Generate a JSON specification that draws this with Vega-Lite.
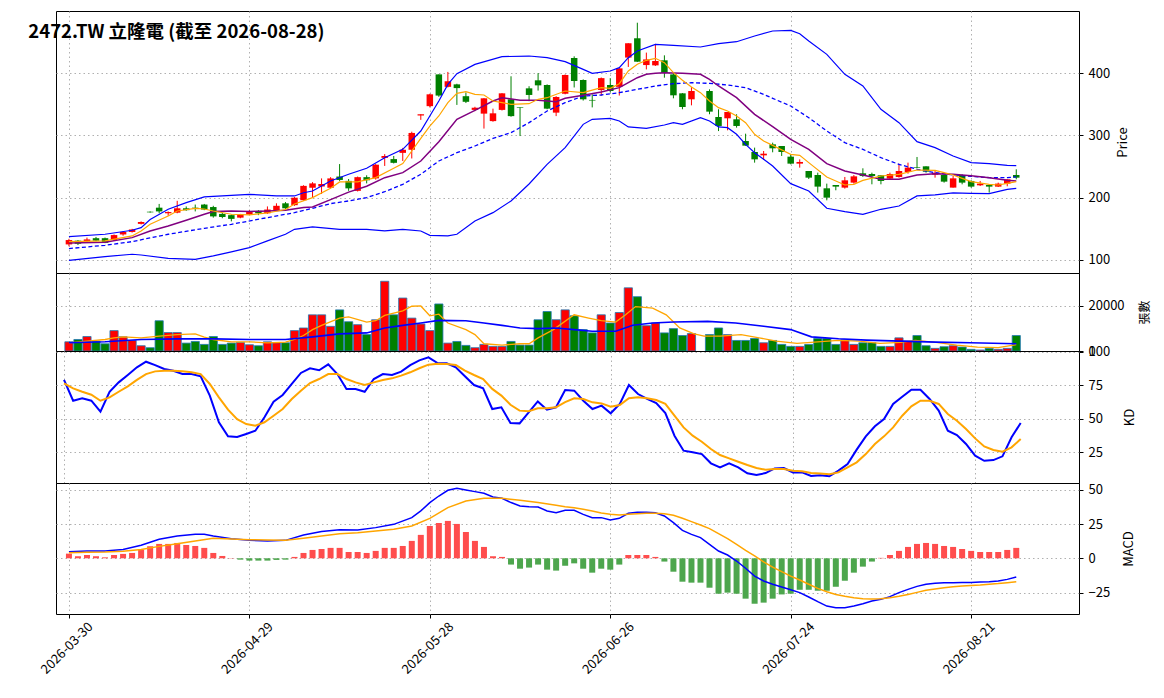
{
"$schema":"https://vega.github.io/schema/vega-lite/v6.json",
"autosize":{"type":"pad"},
"padding":{"left":27,"top":10,"right":5,"bottom":5},
"background":"white",
"bounds":"flush",
"spacing":0,
"config":{
"font":"Noto Sans CJK TC",
"view":{"stroke":"black","strokeWidth":1},
"axis":{"labelFont":"Noto Sans CJK TC","labelFontSize":13,"labelColor":"black","titleFont":"Noto Sans CJK TC","titleFontSize":13,"titleFontWeight":"normal","titleColor":"black","gridColor":"#b0b0b0","gridDash":[1.5,3],"gridWidth":1,"tickColor":"black","tickSize":4,"domain":false,"labelPadding":5}
},
"datasets":{
"d":[
{"i":0,"o":125,"h":134,"l":122,"c":132,"v":4085,"k":79,"dd":76.5,"osc":3.4},
{"i":1,"o":131,"h":132,"l":124,"c":126,"v":5107,"k":63.5,"dd":72.7,"osc":1.5},
{"i":2,"o":130,"h":136,"l":129,"c":133,"v":6420,"k":65.3,"dd":70.2,"osc":2.4},
{"i":3,"o":135,"h":137,"l":130,"c":131,"v":4377,"k":63.5,"dd":68,"osc":1.5},
{"i":4,"o":135,"h":136,"l":127,"c":127.5,"v":3210,"k":55.3,"dd":63.5,"osc":0.7},
{"i":5,"o":132,"h":141,"l":131,"c":140,"v":9046,"k":70.2,"dd":66,"osc":2.4},
{"i":6,"o":141,"h":146,"l":139,"c":145,"v":6274,"k":77.2,"dd":70.2,"osc":3.2},
{"i":7,"o":145,"h":150,"l":144,"c":149,"v":4669,"k":82.7,"dd":74.2,"osc":3.9},
{"i":8,"o":158,"h":162,"l":157,"c":161,"v":2334,"k":88.4,"dd":79,"osc":6.3},
{"i":9,"o":177.5,"h":178,"l":176,"c":176.5,"v":1459,"k":92.6,"dd":83.4,"osc":8.8},
{"i":10,"o":184,"h":190,"l":175,"c":178,"v":13423,"k":90.1,"dd":85.4,"osc":10.5},
{"i":11,"o":175,"h":178,"l":171,"c":177,"v":8170,"k":87.2,"dd":85.9,"osc":10.5},
{"i":12,"o":176,"h":195,"l":175,"c":183,"v":8170,"k":85.9,"dd":85.9,"osc":11.2},
{"i":13,"o":183,"h":186,"l":179,"c":180,"v":3502,"k":83.4,"dd":85.4,"osc":9.7},
{"i":14,"o":184,"h":189,"l":178,"c":183,"v":4231,"k":83.4,"dd":84.7,"osc":9},
{"i":15,"o":189,"h":190,"l":180,"c":181,"v":2918,"k":81.7,"dd":83.4,"osc":7.6},
{"i":16,"o":185,"h":187,"l":168,"c":170,"v":6420,"k":67.3,"dd":76,"osc":3.9},
{"i":17,"o":174,"h":176,"l":167,"c":169,"v":2918,"k":47.4,"dd":66,"osc":1.7},
{"i":18,"o":172,"h":173,"l":162,"c":166,"v":3502,"k":36.9,"dd":56.8,"osc":0.2},
{"i":19,"o":168,"h":174,"l":167,"c":173,"v":3793,"k":36.4,"dd":49.8,"osc":-1},
{"i":20,"o":173,"h":180,"l":172,"c":177,"v":2772,"k":38.7,"dd":46.1,"osc":-1.7},
{"i":21,"o":179,"h":180,"l":172,"c":175,"v":2334,"k":41.1,"dd":44.9,"osc":-1.7},
{"i":22,"o":175,"h":186,"l":174,"c":181,"v":4085,"k":51.1,"dd":47.4,"osc":-1.7},
{"i":23,"o":180,"h":191,"l":179,"c":187,"v":3647,"k":62.8,"dd":52.3,"osc":-1.2},
{"i":24,"o":191,"h":193,"l":182,"c":183,"v":3647,"k":67.8,"dd":57.3,"osc":-1},
{"i":25,"o":188,"h":201,"l":187,"c":200,"v":9046,"k":76,"dd":64.8,"osc":1},
{"i":26,"o":196,"h":220,"l":195,"c":219,"v":10213,"k":84.2,"dd":71,"osc":3.9},
{"i":27,"o":216,"h":225,"l":200,"c":223,"v":16049,"k":87.7,"dd":76.7,"osc":6.1},
{"i":28,"o":218,"h":231,"l":206,"c":222,"v":16049,"k":86.2,"dd":79.7,"osc":6.8},
{"i":29,"o":216,"h":233,"l":215,"c":231,"v":10943,"k":90.6,"dd":83.4,"osc":7.6},
{"i":30,"o":234,"h":254,"l":227,"c":228.5,"v":18238,"k":83.4,"dd":83.4,"osc":7.6},
{"i":31,"o":227,"h":230,"l":211,"c":215,"v":12985,"k":72.3,"dd":79.7,"osc":4.6},
{"i":32,"o":211,"h":234,"l":210,"c":233,"v":11672,"k":72.3,"dd":77.2,"osc":4.6},
{"i":33,"o":233,"h":236,"l":223,"c":228,"v":7295,"k":70.2,"dd":75.2,"osc":3.9},
{"i":34,"o":231,"h":254,"l":229,"c":253,"v":13861,"k":79.7,"dd":77.2,"osc":5.4},
{"i":35,"o":264,"h":270,"l":251,"c":267,"v":30931,"k":83.4,"dd":79,"osc":7.6},
{"i":36,"o":262,"h":267,"l":255,"c":256,"v":16049,"k":82.7,"dd":80.2,"osc":7.6},
{"i":37,"o":272,"h":280,"l":259,"c":277,"v":23490,"k":85.2,"dd":82.2,"osc":9},
{"i":38,"o":277,"h":306,"l":263,"c":304,"v":14590,"k":90.1,"dd":84.7,"osc":12.7},
{"i":39,"o":332,"h":334,"l":325,"c":334,"v":11964,"k":93.6,"dd":87.7,"osc":17.1},
{"i":40,"o":347,"h":367,"l":345,"c":366,"v":9046,"k":95.9,"dd":90.4,"osc":23.6},
{"i":41,"o":398,"h":398,"l":362,"c":364,"v":20864,"k":91.6,"dd":91.1,"osc":25.8},
{"i":42,"o":378,"h":402,"l":377,"c":387,"v":3502,"k":91.4,"dd":90.9,"osc":27.3},
{"i":43,"o":382,"h":383,"l":349,"c":376,"v":4231,"k":88.4,"dd":90.1,"osc":25.1},
{"i":44,"o":363,"h":369,"l":352,"c":354,"v":2480,"k":81.7,"dd":85.9,"osc":19.2},
{"i":45,"o":341,"h":346,"l":339,"c":344.5,"v":1459,"k":75.2,"dd":82.7,"osc":12.7},
{"i":46,"o":335,"h":360,"l":311,"c":359.6,"v":2918,"k":72.7,"dd":79.7,"osc":8.3},
{"i":47,"o":323,"h":343,"l":322,"c":335.5,"v":2043,"k":57.3,"dd":72.3,"osc":1.5},
{"i":48,"o":341,"h":368,"l":340,"c":367.6,"v":2043,"k":58.6,"dd":67.3,"osc":1},
{"i":49,"o":358,"h":395,"l":330,"c":331,"v":4231,"k":46.9,"dd":60.5,"osc":-4.6},
{"i":50,"o":345,"h":345,"l":299,"c":344,"v":2626,"k":46.6,"dd":56.1,"osc":-7.6},
{"i":51,"o":375.6,"h":379,"l":355,"c":365,"v":2626,"k":54.8,"dd":55.6,"osc":-6.8},
{"i":52,"o":388.5,"h":400,"l":372,"c":380.4,"v":13861,"k":63,"dd":57.8,"osc":-4.6},
{"i":53,"o":381,"h":382,"l":342,"c":343,"v":17520,"k":56.8,"dd":57.8,"osc":-8.3},
{"i":54,"o":336.6,"h":363,"l":331,"c":361.7,"v":13870,"k":58.6,"dd":58.6,"osc":-9},
{"i":55,"o":367,"h":398,"l":366,"c":397,"v":18250,"k":71.5,"dd":62.5,"osc":-5.4},
{"i":56,"o":424.3,"h":427,"l":377,"c":387.4,"v":15622,"k":71,"dd":65.3,"osc":-3.7},
{"i":57,"o":389,"h":390,"l":356,"c":358,"v":9490,"k":63.5,"dd":64.8,"osc":-7.6},
{"i":58,"o":357,"h":366,"l":345,"c":356,"v":8030,"k":57.3,"dd":62.3,"osc":-10.5},
{"i":59,"o":373,"h":393,"l":364,"c":392,"v":16060,"k":59.8,"dd":61.5,"osc":-7.6},
{"i":60,"o":381,"h":392,"l":369,"c":371.3,"v":12410,"k":54.1,"dd":59,"osc":-8.3},
{"i":61,"o":378,"h":408,"l":364,"c":407.7,"v":17082,"k":61.1,"dd":60.3,"osc":-4.6},
{"i":62,"o":425,"h":448,"l":410,"c":448,"v":28032,"k":75.2,"dd":65.3,"osc":2.4},
{"i":63,"o":456,"h":481,"l":418,"c":418.4,"v":24090,"k":68.5,"dd":66,"osc":2.4},
{"i":64,"o":413,"h":433,"l":406,"c":422,"v":11242,"k":64.8,"dd":65.3,"osc":2.4},
{"i":65,"o":412.5,"h":447,"l":411.5,"c":419.5,"v":12410,"k":61.8,"dd":64,"osc":1},
{"i":66,"o":420.6,"h":428.6,"l":392.7,"c":400.2,"v":8030,"k":54.3,"dd":61.1,"osc":-2.4},
{"i":67,"o":398,"h":400.8,"l":359.6,"c":364.4,"v":9928,"k":37.4,"dd":52.3,"osc":-9.8},
{"i":68,"o":367.6,"h":368,"l":342,"c":345.6,"v":6862,"k":26.2,"dd":43.6,"osc":-17.1},
{"i":69,"o":358,"h":377.8,"l":348.3,"c":371.3,"v":7738,"k":25,"dd":37.4,"osc":-17.8},
{"i":70,"o":null,"h":null,"l":null,"c":null,"v":null,"k":23.7,"dd":32.9,"osc":-17.8},
{"i":71,"o":371.3,"h":374,"l":334,"c":338.2,"v":7300,"k":16.8,"dd":27.5,"osc":-21.5},
{"i":72,"o":329.6,"h":342,"l":307,"c":315.2,"v":10220,"k":13.8,"dd":23,"osc":-25.9},
{"i":73,"o":327.5,"h":337.6,"l":308.2,"c":337.6,"v":7300,"k":16.8,"dd":20.5,"osc":-25.1},
{"i":74,"o":325.9,"h":334,"l":312.5,"c":315.2,"v":4672,"k":13.8,"dd":18,"osc":-25.9},
{"i":75,"o":291,"h":302.8,"l":283.6,"c":283.6,"v":4672,"k":9.3,"dd":15.5,"osc":-29.5},
{"i":76,"o":273.4,"h":280.4,"l":256.3,"c":261.6,"v":5548,"k":8.1,"dd":13.3,"osc":-33.2},
{"i":77,"o":268,"h":275,"l":260.6,"c":270.7,"v":3650,"k":9.5,"dd":12,"osc":-32.4},
{"i":78,"o":285.7,"h":288.4,"l":272.9,"c":279.3,"v":4672,"k":13,"dd":12.5,"osc":-29.5},
{"i":79,"o":283,"h":283,"l":267,"c":273.4,"v":2920,"k":13.3,"dd":12.5,"osc":-26.4},
{"i":80,"o":265.9,"h":269.7,"l":253.6,"c":254.7,"v":2044,"k":10,"dd":11.3,"osc":-25.9},
{"i":81,"o":254.7,"h":261.6,"l":248.3,"c":257.4,"v":2044,"k":10,"dd":10.8,"osc":-23},
{"i":82,"o":242.9,"h":242.9,"l":230,"c":232.2,"v":2920,"k":7.3,"dd":9.5,"osc":-23},
{"i":83,"o":236.5,"h":240.2,"l":208.2,"c":217.8,"v":5548,"k":7.8,"dd":9.1,"osc":-23.7},
{"i":84,"o":215.1,"h":222.6,"l":195.8,"c":200.1,"v":5548,"k":7.1,"dd":8.6,"osc":-23.7},
{"i":85,"o":220.4,"h":220.4,"l":211.9,"c":217.8,"v":2920,"k":11.3,"dd":10,"osc":-20.8},
{"i":86,"o":216.2,"h":233.3,"l":214.6,"c":227.9,"v":4964,"k":16.3,"dd":13.8,"osc":-16.4},
{"i":87,"o":224.2,"h":236.5,"l":222.6,"c":234.3,"v":2920,"k":27,"dd":17.5,"osc":-10.5},
{"i":88,"o":239.2,"h":247.2,"l":233.3,"c":234.9,"v":3650,"k":36.9,"dd":23.7,"osc":-6.1},
{"i":89,"o":238.1,"h":240.2,"l":221.5,"c":234.9,"v":3650,"k":44.4,"dd":31.2,"osc":-2.4},
{"i":90,"o":236,"h":236,"l":221.5,"c":226.9,"v":2044,"k":49.8,"dd":36.9,"osc":0.3},
{"i":91,"o":230.6,"h":240.2,"l":229.5,"c":238.1,"v":2044,"k":61.1,"dd":43.6,"osc":2.4},
{"i":92,"o":233.3,"h":254.7,"l":232.2,"c":242.9,"v":5840,"k":66.5,"dd":52.3,"osc":5.4},
{"i":93,"o":241.3,"h":256.3,"l":238.6,"c":248.3,"v":4380,"k":71.7,"dd":59.3,"osc":8.3},
{"i":94,"o":249.3,"h":265.4,"l":247.2,"c":248.3,"v":6862,"k":71.7,"dd":63.5,"osc":10.5},
{"i":95,"o":250.4,"h":250.4,"l":240.2,"c":241.8,"v":2336,"k":64.8,"dd":63.5,"osc":11.2},
{"i":96,"o":237,"h":242.9,"l":232.2,"c":240,"v":1168,"k":56.1,"dd":61.1,"osc":10.5},
{"i":97,"o":236.5,"h":237.6,"l":224.2,"c":225.8,"v":1898,"k":41.1,"dd":53.6,"osc":9},
{"i":98,"o":216.2,"h":234.9,"l":216.2,"c":231.1,"v":2336,"k":37.9,"dd":48.6,"osc":8.3},
{"i":99,"o":236.5,"h":237.6,"l":221.5,"c":224.2,"v":1752,"k":31.2,"dd":42.4,"osc":6.8},
{"i":100,"o":226.9,"h":228,"l":216.2,"c":217.8,"v":730,"k":22.5,"dd":35.4,"osc":5.4},
{"i":101,"o":219.9,"h":226.9,"l":218.8,"c":222.6,"v":438,"k":18.7,"dd":29.4,"osc":4.6},
{"i":102,"o":220.4,"h":220.4,"l":208.2,"c":217.8,"v":1168,"k":19.2,"dd":26.7,"osc":4.6},
{"i":103,"o":217.8,"h":224.2,"l":217.2,"c":222.6,"v":730,"k":22,"dd":25.5,"osc":4.6},
{"i":104,"o":222.6,"h":229.5,"l":218.3,"c":229.5,"v":1168,"k":36.2,"dd":28.7,"osc":6.1},
{"i":105,"o":236.5,"h":245.6,"l":229.5,"c":232.2,"v":6862,"k":46.9,"dd":34.9,"osc":7.6}
],
"pl":[
{"s":"up","i":0,"v":137.5},{"s":"up","i":4,"v":141.3},{"s":"up","i":7,"v":147.7},{"s":"up","i":8,"v":152},{"s":"up","i":9,"v":165},{"s":"up","i":11,"v":181.4},{"s":"up","i":13,"v":192},{"s":"up","i":15,"v":201.2},{"s":"up","i":18,"v":203.9},{"s":"up","i":20,"v":205.5},{"s":"up","i":23,"v":202.8},{"s":"up","i":25,"v":202.8},{"s":"up","i":26,"v":208},{"s":"up","i":27,"v":210.8},{"s":"up","i":29,"v":226.9},{"s":"up","i":31,"v":237.6},{"s":"up","i":33,"v":247.2},{"s":"up","i":35,"v":264.3},{"s":"up","i":37,"v":277.7},{"s":"up","i":39,"v":307.1},{"s":"up","i":40,"v":331.2},{"s":"up","i":41,"v":355.3},{"s":"up","i":42,"v":382},{"s":"up","i":43,"v":399.2},{"s":"up","i":45,"v":414.1},{"s":"up","i":48,"v":426.5},{"s":"up","i":51,"v":427.5},{"s":"up","i":53,"v":424.9},{"s":"up","i":55,"v":418.4},{"s":"up","i":57,"v":406.1},{"s":"up","i":58,"v":399.7},{"s":"up","i":60,"v":403.5},{"s":"up","i":61,"v":408.8},{"s":"up","i":62,"v":424.9},{"s":"up","i":63,"v":435.6},{"s":"up","i":65,"v":446.3},{"s":"up","i":67,"v":444.7},{"s":"up","i":70,"v":442},{"s":"up","i":72,"v":447.3},{"s":"up","i":74,"v":450.5},{"s":"up","i":76,"v":459.6},{"s":"up","i":78,"v":467.7},{"s":"up","i":80,"v":468.7},{"s":"up","i":81,"v":463.4},{"s":"up","i":82,"v":451.6},{"s":"up","i":84,"v":430.2},{"s":"up","i":86,"v":398.1},{"s":"up","i":88,"v":379.4},{"s":"up","i":90,"v":341.9},{"s":"up","i":92,"v":320.5},{"s":"up","i":94,"v":290},{"s":"up","i":96,"v":280.4},{"s":"up","i":98,"v":267},{"s":"up","i":100,"v":256.3},{"s":"up","i":102,"v":254.7},{"s":"up","i":104,"v":252},{"s":"up","i":105,"v":251.5},
{"s":"lo","i":0,"v":99.5},{"s":"lo","i":4,"v":105.4},{"s":"lo","i":7,"v":109.2},{"s":"lo","i":8,"v":108},{"s":"lo","i":11,"v":102.7},{"s":"lo","i":14,"v":101.1},{"s":"lo","i":16,"v":106.5},{"s":"lo","i":18,"v":112.9},{"s":"lo","i":20,"v":119.9},{"s":"lo","i":22,"v":130.6},{"s":"lo","i":24,"v":141.3},{"s":"lo","i":25,"v":149.3},{"s":"lo","i":27,"v":153},{"s":"lo","i":30,"v":149.3},{"s":"lo","i":33,"v":149.3},{"s":"lo","i":35,"v":146.6},{"s":"lo","i":37,"v":149.3},{"s":"lo","i":39,"v":146.6},{"s":"lo","i":40,"v":139.6},{"s":"lo","i":42,"v":138.6},{"s":"lo","i":43,"v":141.3},{"s":"lo","i":45,"v":162.6},{"s":"lo","i":47,"v":176},{"s":"lo","i":49,"v":194.8},{"s":"lo","i":51,"v":222},{"s":"lo","i":53,"v":253.6},{"s":"lo","i":55,"v":280.4},{"s":"lo","i":57,"v":317.8},{"s":"lo","i":58,"v":325.9},{"s":"lo","i":60,"v":327.5},{"s":"lo","i":61,"v":323.2},{"s":"lo","i":62,"v":313.6},{"s":"lo","i":64,"v":311.4},{"s":"lo","i":66,"v":316.8},{"s":"lo","i":67,"v":320.5},{"s":"lo","i":68,"v":317.8},{"s":"lo","i":70,"v":328.5},{"s":"lo","i":71,"v":323.2},{"s":"lo","i":72,"v":313.6},{"s":"lo","i":73,"v":312.5},{"s":"lo","i":74,"v":301.8},{"s":"lo","i":75,"v":285.7},{"s":"lo","i":76,"v":272.3},{"s":"lo","i":77,"v":261.6},{"s":"lo","i":78,"v":250.9},{"s":"lo","i":80,"v":222.6},{"s":"lo","i":82,"v":210.8},{"s":"lo","i":84,"v":183},{"s":"lo","i":86,"v":177.6},{"s":"lo","i":88,"v":173.4},{"s":"lo","i":90,"v":181.4},{"s":"lo","i":92,"v":186.7},{"s":"lo","i":94,"v":202.8},{"s":"lo","i":96,"v":204.4},{"s":"lo","i":98,"v":207.6},{"s":"lo","i":100,"v":207.1},{"s":"lo","i":102,"v":206.5},{"s":"lo","i":104,"v":213.5},{"s":"lo","i":105,"v":215.1},
{"s":"mid","i":0,"v":118.3},{"s":"mid","i":4,"v":123.6},{"s":"mid","i":7,"v":129.5},{"s":"mid","i":11,"v":141.3},{"s":"mid","i":15,"v":150.9},{"s":"mid","i":18,"v":157.3},{"s":"mid","i":22,"v":168},{"s":"mid","i":25,"v":176},{"s":"mid","i":27,"v":183},{"s":"mid","i":29,"v":190.5},{"s":"mid","i":31,"v":194.8},{"s":"mid","i":33,"v":200.1},{"s":"mid","i":35,"v":209.7},{"s":"mid","i":37,"v":221.5},{"s":"mid","i":39,"v":237.6},{"s":"mid","i":41,"v":258.9},{"s":"mid","i":43,"v":272.3},{"s":"mid","i":45,"v":283},{"s":"mid","i":47,"v":295.3},{"s":"mid","i":49,"v":304.5},{"s":"mid","i":51,"v":320.5},{"s":"mid","i":53,"v":339.2},{"s":"mid","i":55,"v":352.6},{"s":"mid","i":57,"v":363.3},{"s":"mid","i":59,"v":364.9},{"s":"mid","i":61,"v":368.7},{"s":"mid","i":63,"v":374},{"s":"mid","i":65,"v":379.4},{"s":"mid","i":67,"v":383.1},{"s":"mid","i":69,"v":384.7},{"s":"mid","i":71,"v":383.6},{"s":"mid","i":73,"v":381},{"s":"mid","i":75,"v":376.7},{"s":"mid","i":77,"v":366},{"s":"mid","i":78,"v":359.6},{"s":"mid","i":80,"v":347.3},{"s":"mid","i":82,"v":328.5},{"s":"mid","i":84,"v":307.1},{"s":"mid","i":86,"v":288.4},{"s":"mid","i":88,"v":277.7},{"s":"mid","i":90,"v":264.3},{"s":"mid","i":92,"v":253.6},{"s":"mid","i":94,"v":245.6},{"s":"mid","i":96,"v":240.2},{"s":"mid","i":98,"v":236.5},{"s":"mid","i":100,"v":234.4},{"s":"mid","i":102,"v":232.2},{"s":"mid","i":104,"v":232.2},{"s":"mid","i":105,"v":233.3},
{"s":"ma10","i":0,"v":127.4},{"s":"ma10","i":4,"v":128.4},{"s":"ma10","i":7,"v":135.9},{"s":"ma10","i":9,"v":146.6},{"s":"ma10","i":11,"v":154.6},{"s":"ma10","i":13,"v":163.7},{"s":"ma10","i":15,"v":173.4},{"s":"ma10","i":16,"v":177.7},{"s":"ma10","i":18,"v":178.7},{"s":"ma10","i":20,"v":177.7},{"s":"ma10","i":22,"v":178.7},{"s":"ma10","i":24,"v":179.8},{"s":"ma10","i":26,"v":184.1},{"s":"ma10","i":27,"v":185.1},{"s":"ma10","i":29,"v":197},{"s":"ma10","i":31,"v":209},{"s":"ma10","i":33,"v":218.5},{"s":"ma10","i":35,"v":232.2},{"s":"ma10","i":37,"v":240.2},{"s":"ma10","i":39,"v":258.9},{"s":"ma10","i":41,"v":290},{"s":"ma10","i":43,"v":325.9},{"s":"ma10","i":45,"v":340.3},{"s":"ma10","i":47,"v":355.3},{"s":"ma10","i":48,"v":360.6},{"s":"ma10","i":50,"v":356.4},{"s":"ma10","i":52,"v":356.4},{"s":"ma10","i":54,"v":354.2},{"s":"ma10","i":55,"v":359.6},{"s":"ma10","i":57,"v":364.4},{"s":"ma10","i":59,"v":369.7},{"s":"ma10","i":61,"v":376.7},{"s":"ma10","i":62,"v":384.7},{"s":"ma10","i":63,"v":392.7},{"s":"ma10","i":64,"v":398.1},{"s":"ma10","i":65,"v":399.7},{"s":"ma10","i":66,"v":400.8},{"s":"ma10","i":68,"v":399.7},{"s":"ma10","i":70,"v":398.1},{"s":"ma10","i":71,"v":390.1},{"s":"ma10","i":72,"v":379.4},{"s":"ma10","i":74,"v":360.6},{"s":"ma10","i":76,"v":333.9},{"s":"ma10","i":78,"v":314},{"s":"ma10","i":80,"v":293.7},{"s":"ma10","i":82,"v":277.7},{"s":"ma10","i":84,"v":254.7},{"s":"ma10","i":86,"v":242.9},{"s":"ma10","i":88,"v":236.5},{"s":"ma10","i":90,"v":229.5},{"s":"ma10","i":92,"v":229.5},{"s":"ma10","i":94,"v":236.5},{"s":"ma10","i":96,"v":238.6},{"s":"ma10","i":98,"v":237.6},{"s":"ma10","i":100,"v":235.4},{"s":"ma10","i":102,"v":232.2},{"s":"ma10","i":104,"v":227.9},{"s":"ma10","i":105,"v":226.9},
{"s":"ma5","i":0,"v":129.5},{"s":"ma5","i":4,"v":130.6},{"s":"ma5","i":7,"v":138.6},{"s":"ma5","i":8,"v":146.6},{"s":"ma5","i":9,"v":157.3},{"s":"ma5","i":11,"v":170.7},{"s":"ma5","i":12,"v":178.7},{"s":"ma5","i":14,"v":183},{"s":"ma5","i":15,"v":181.9},{"s":"ma5","i":16,"v":178.7},{"s":"ma5","i":18,"v":173.4},{"s":"ma5","i":20,"v":172.3},{"s":"ma5","i":22,"v":175.5},{"s":"ma5","i":24,"v":181},{"s":"ma5","i":25,"v":190},{"s":"ma5","i":27,"v":200.1},{"s":"ma5","i":29,"v":215.1},{"s":"ma5","i":30,"v":225.3},{"s":"ma5","i":32,"v":225.3},{"s":"ma5","i":34,"v":232.2},{"s":"ma5","i":36,"v":247.2},{"s":"ma5","i":37,"v":254.7},{"s":"ma5","i":38,"v":275},{"s":"ma5","i":39,"v":295.3},{"s":"ma5","i":40,"v":315},{"s":"ma5","i":41,"v":331.2},{"s":"ma5","i":42,"v":352.6},{"s":"ma5","i":43,"v":367.6},{"s":"ma5","i":44,"v":370.3},{"s":"ma5","i":45,"v":366},{"s":"ma5","i":46,"v":364.9},{"s":"ma5","i":47,"v":355.3},{"s":"ma5","i":48,"v":352.6},{"s":"ma5","i":49,"v":350},{"s":"ma5","i":51,"v":351},{"s":"ma5","i":52,"v":358},{"s":"ma5","i":53,"v":360.6},{"s":"ma5","i":55,"v":371.3},{"s":"ma5","i":57,"v":368.7},{"s":"ma5","i":59,"v":376.7},{"s":"ma5","i":60,"v":375.6},{"s":"ma5","i":61,"v":383.1},{"s":"ma5","i":62,"v":403.5},{"s":"ma5","i":63,"v":414.2},{"s":"ma5","i":64,"v":420.6},{"s":"ma5","i":65,"v":423.8},{"s":"ma5","i":66,"v":416.8},{"s":"ma5","i":67,"v":400.8},{"s":"ma5","i":68,"v":388.5},{"s":"ma5","i":69,"v":377.8},{"s":"ma5","i":70,"v":368.7},{"s":"ma5","i":71,"v":355.3},{"s":"ma5","i":72,"v":344.6},{"s":"ma5","i":73,"v":339.2},{"s":"ma5","i":74,"v":331.2},{"s":"ma5","i":75,"v":320.5},{"s":"ma5","i":76,"v":301.8},{"s":"ma5","i":77,"v":291.1},{"s":"ma5","i":78,"v":284},{"s":"ma5","i":80,"v":269.7},{"s":"ma5","i":81,"v":268},{"s":"ma5","i":82,"v":256.3},{"s":"ma5","i":84,"v":233.3},{"s":"ma5","i":86,"v":220.4},{"s":"ma5","i":87,"v":221.5},{"s":"ma5","i":88,"v":227.9},{"s":"ma5","i":90,"v":234.9},{"s":"ma5","i":92,"v":237.6},{"s":"ma5","i":94,"v":244.5},{"s":"ma5","i":96,"v":244},{"s":"ma5","i":97,"v":240.2},{"s":"ma5","i":98,"v":236.5},{"s":"ma5","i":99,"v":231.1},{"s":"ma5","i":100,"v":225.8},{"s":"ma5","i":102,"v":221.5},{"s":"ma5","i":103,"v":220.4},{"s":"ma5","i":104,"v":223.1},{"s":"ma5","i":105,"v":225.8}
],
"vl":[
{"s":"m5","i":0,"v":3647},{"s":"m5","i":2,"v":4377},{"s":"m5","i":4,"v":5107},{"s":"m5","i":5,"v":5836},{"s":"m5","i":6,"v":6274},{"s":"m5","i":8,"v":5836},{"s":"m5","i":10,"v":6566},{"s":"m5","i":12,"v":7295},{"s":"m5","i":14,"v":7587},{"s":"m5","i":15,"v":6128},{"s":"m5","i":16,"v":5107},{"s":"m5","i":18,"v":4085},{"s":"m5","i":20,"v":4085},{"s":"m5","i":22,"v":3647},{"s":"m5","i":24,"v":3939},{"s":"m5","i":25,"v":5107},{"s":"m5","i":26,"v":6857},{"s":"m5","i":27,"v":9484},{"s":"m5","i":28,"v":11380},{"s":"m5","i":30,"v":14590},{"s":"m5","i":31,"v":15173},{"s":"m5","i":33,"v":12839},{"s":"m5","i":34,"v":13423},{"s":"m5","i":35,"v":15757},{"s":"m5","i":37,"v":17800},{"s":"m5","i":38,"v":19842},{"s":"m5","i":39,"v":19988},{"s":"m5","i":40,"v":15611},{"s":"m5","i":41,"v":16341},{"s":"m5","i":42,"v":12401},{"s":"m5","i":44,"v":9484},{"s":"m5","i":45,"v":7295},{"s":"m5","i":46,"v":3210},{"s":"m5","i":48,"v":2626},{"s":"m5","i":50,"v":3210},{"s":"m5","i":51,"v":3210},{"s":"m5","i":52,"v":5836},{"s":"m5","i":53.7,"v":9490},{"s":"m5","i":56,"v":16060},{"s":"m5","i":57.6,"v":14600},{"s":"m5","i":59,"v":13432},{"s":"m5","i":60.6,"v":12848},{"s":"m5","i":61.7,"v":16060},{"s":"m5","i":62.8,"v":19710},{"s":"m5","i":64.7,"v":18980},{"s":"m5","i":66.2,"v":16060},{"s":"m5","i":67.7,"v":10220},{"s":"m5","i":69.3,"v":7592},{"s":"m5","i":70.4,"v":6570},{"s":"m5","i":72.2,"v":6570},{"s":"m5","i":74.5,"v":7300},{"s":"m5","i":76.5,"v":5840},{"s":"m5","i":78.4,"v":4380},{"s":"m5","i":80.7,"v":3358},{"s":"m5","i":83,"v":4088},{"s":"m5","i":85.3,"v":4672},{"s":"m5","i":87.6,"v":4380},{"s":"m5","i":89.9,"v":3358},{"s":"m5","i":92.2,"v":3796},{"s":"m5","i":93.8,"v":4672},{"s":"m5","i":96.1,"v":3796},{"s":"m5","i":98.4,"v":2628},{"s":"m5","i":100.7,"v":1752},{"s":"m5","i":103,"v":1460},{"s":"m5","i":105,"v":2800},
{"s":"m20","i":0,"v":3647},{"s":"m20","i":4,"v":4085},{"s":"m20","i":8,"v":5107},{"s":"m20","i":12,"v":5398},{"s":"m20","i":16,"v":5398},{"s":"m20","i":20,"v":5107},{"s":"m20","i":24,"v":5107},{"s":"m20","i":27,"v":6274},{"s":"m20","i":30,"v":7587},{"s":"m20","i":33,"v":8025},{"s":"m20","i":35,"v":10213},{"s":"m20","i":37,"v":11380},{"s":"m20","i":39,"v":12401},{"s":"m20","i":41,"v":13569},{"s":"m20","i":44,"v":13423},{"s":"m20","i":46,"v":12401},{"s":"m20","i":48,"v":11380},{"s":"m20","i":50,"v":10213},{"s":"m20","i":52,"v":9921},{"s":"m20","i":54,"v":10220},{"s":"m20","i":56,"v":9490},{"s":"m20","i":58,"v":8760},{"s":"m20","i":60.6,"v":8760},{"s":"m20","i":62.5,"v":11388},{"s":"m20","i":64.7,"v":12410},{"s":"m20","i":67,"v":12848},{"s":"m20","i":70.8,"v":13140},{"s":"m20","i":73.9,"v":12410},{"s":"m20","i":77,"v":10950},{"s":"m20","i":80,"v":9490},{"s":"m20","i":82.3,"v":6278},{"s":"m20","i":85.3,"v":5402},{"s":"m20","i":88.4,"v":4818},{"s":"m20","i":92.2,"v":4380},{"s":"m20","i":96.1,"v":3942},{"s":"m20","i":99.9,"v":3650},{"s":"m20","i":105,"v":3212}
],
"ml":[
{"s":"dif","i":0,"v":4.8},{"s":"dif","i":2,"v":5.3},{"s":"dif","i":4,"v":5.3},{"s":"dif","i":6,"v":6.5},{"s":"dif","i":8,"v":9.5},{"s":"dif","i":10,"v":13.9},{"s":"dif","i":12,"v":16.3},{"s":"dif","i":14,"v":17.5},{"s":"dif","i":15,"v":17.5},{"s":"dif","i":16,"v":16.3},{"s":"dif","i":18,"v":14.3},{"s":"dif","i":20,"v":13.1},{"s":"dif","i":22,"v":12.6},{"s":"dif","i":24,"v":13.1},{"s":"dif","i":26,"v":17},{"s":"dif","i":28,"v":19.5},{"s":"dif","i":30,"v":20.9},{"s":"dif","i":32,"v":20.7},{"s":"dif","i":34,"v":22.4},{"s":"dif","i":36,"v":24.8},{"s":"dif","i":38,"v":29.7},{"s":"dif","i":39,"v":34.6},{"s":"dif","i":40,"v":40.7},{"s":"dif","i":41,"v":45.5},{"s":"dif","i":42,"v":49.7},{"s":"dif","i":43,"v":51.1},{"s":"dif","i":44,"v":49.9},{"s":"dif","i":45,"v":48.7},{"s":"dif","i":46,"v":47.5},{"s":"dif","i":47,"v":44.8},{"s":"dif","i":48,"v":43.8},{"s":"dif","i":49,"v":40.7},{"s":"dif","i":50,"v":38.2},{"s":"dif","i":51,"v":37.7},{"s":"dif","i":52,"v":37.5},{"s":"dif","i":53,"v":34.6},{"s":"dif","i":54,"v":33.3},{"s":"dif","i":55,"v":35.1},{"s":"dif","i":56,"v":35.1},{"s":"dif","i":57,"v":32.1},{"s":"dif","i":58,"v":29.7},{"s":"dif","i":59,"v":29.7},{"s":"dif","i":60,"v":28},{"s":"dif","i":61,"v":29.2},{"s":"dif","i":62,"v":32.9},{"s":"dif","i":63,"v":33.6},{"s":"dif","i":64,"v":33.6},{"s":"dif","i":65,"v":33.3},{"s":"dif","i":66,"v":30.9},{"s":"dif","i":67,"v":26},{"s":"dif","i":68,"v":20.4},{"s":"dif","i":69,"v":17.5},{"s":"dif","i":70,"v":15.1},{"s":"dif","i":71,"v":10.2},{"s":"dif","i":72,"v":5.3},{"s":"dif","i":73,"v":2.4},{"s":"dif","i":74,"v":-2},{"s":"dif","i":75,"v":-7.3},{"s":"dif","i":76,"v":-13},{"s":"dif","i":77,"v":-16.6},{"s":"dif","i":78,"v":-19},{"s":"dif","i":79,"v":-21},{"s":"dif","i":80,"v":-23},{"s":"dif","i":81,"v":-25.1},{"s":"dif","i":82,"v":-28.3},{"s":"dif","i":83,"v":-31.7},{"s":"dif","i":84,"v":-34.9},{"s":"dif","i":85,"v":-36.1},{"s":"dif","i":86,"v":-36.1},{"s":"dif","i":87,"v":-34.9},{"s":"dif","i":88,"v":-33.2},{"s":"dif","i":89,"v":-31.2},{"s":"dif","i":90,"v":-30},{"s":"dif","i":91,"v":-28},{"s":"dif","i":92,"v":-25.1},{"s":"dif","i":93,"v":-22.7},{"s":"dif","i":94,"v":-20.5},{"s":"dif","i":95,"v":-19},{"s":"dif","i":96,"v":-18.3},{"s":"dif","i":97,"v":-17.8},{"s":"dif","i":98,"v":-17.8},{"s":"dif","i":99,"v":-17.6},{"s":"dif","i":100,"v":-17.6},{"s":"dif","i":101,"v":-17.3},{"s":"dif","i":102,"v":-17.1},{"s":"dif","i":103,"v":-16.6},{"s":"dif","i":104,"v":-15.4},{"s":"dif","i":105,"v":-13.7},
{"s":"dea","i":0,"v":4.1},{"s":"dea","i":2,"v":4.4},{"s":"dea","i":4,"v":4.6},{"s":"dea","i":6,"v":5.1},{"s":"dea","i":8,"v":6.5},{"s":"dea","i":10,"v":8.7},{"s":"dea","i":12,"v":10.7},{"s":"dea","i":14,"v":12.6},{"s":"dea","i":16,"v":14.6},{"s":"dea","i":18,"v":14.1},{"s":"dea","i":20,"v":13.6},{"s":"dea","i":22,"v":13.4},{"s":"dea","i":24,"v":13.1},{"s":"dea","i":26,"v":14.6},{"s":"dea","i":28,"v":16.3},{"s":"dea","i":30,"v":18},{"s":"dea","i":32,"v":18.7},{"s":"dea","i":34,"v":20},{"s":"dea","i":36,"v":21.2},{"s":"dea","i":38,"v":23.6},{"s":"dea","i":40,"v":29.2},{"s":"dea","i":42,"v":37},{"s":"dea","i":44,"v":41.9},{"s":"dea","i":46,"v":43.8},{"s":"dea","i":48,"v":43.8},{"s":"dea","i":50,"v":42.4},{"s":"dea","i":52,"v":40.7},{"s":"dea","i":54,"v":38.7},{"s":"dea","i":55,"v":37.7},{"s":"dea","i":56,"v":37},{"s":"dea","i":57,"v":35.8},{"s":"dea","i":58,"v":34.6},{"s":"dea","i":59,"v":33.1},{"s":"dea","i":60,"v":32.1},{"s":"dea","i":61,"v":31.6},{"s":"dea","i":62,"v":32.1},{"s":"dea","i":63,"v":32.6},{"s":"dea","i":64,"v":32.9},{"s":"dea","i":65,"v":32.9},{"s":"dea","i":66,"v":32.6},{"s":"dea","i":67,"v":31.4},{"s":"dea","i":68,"v":29.2},{"s":"dea","i":69,"v":26.8},{"s":"dea","i":70,"v":24.3},{"s":"dea","i":71,"v":21.7},{"s":"dea","i":72,"v":18},{"s":"dea","i":73,"v":14.3},{"s":"dea","i":74,"v":10.2},{"s":"dea","i":75,"v":5.8},{"s":"dea","i":76,"v":1.7},{"s":"dea","i":77,"v":-2.7},{"s":"dea","i":78,"v":-6.4},{"s":"dea","i":79,"v":-9.8},{"s":"dea","i":80,"v":-13},{"s":"dea","i":81,"v":-15.9},{"s":"dea","i":82,"v":-19},{"s":"dea","i":83,"v":-22},{"s":"dea","i":84,"v":-24.4},{"s":"dea","i":85,"v":-26.4},{"s":"dea","i":86,"v":-27.8},{"s":"dea","i":87,"v":-28.8},{"s":"dea","i":88,"v":-29.5},{"s":"dea","i":89,"v":-29.8},{"s":"dea","i":90,"v":-29.5},{"s":"dea","i":91,"v":-28.8},{"s":"dea","i":92,"v":-27.8},{"s":"dea","i":93,"v":-26.4},{"s":"dea","i":94,"v":-24.9},{"s":"dea","i":95,"v":-23.4},{"s":"dea","i":96,"v":-22.5},{"s":"dea","i":97,"v":-21.5},{"s":"dea","i":98,"v":-20.8},{"s":"dea","i":99,"v":-20.3},{"s":"dea","i":100,"v":-19.8},{"s":"dea","i":101,"v":-19.5},{"s":"dea","i":102,"v":-19},{"s":"dea","i":103,"v":-18.5},{"s":"dea","i":104,"v":-17.8},{"s":"dea","i":105,"v":-17.1}
],
"ref":[{"v":80},{"v":20}],
"ttl":[{"t":"2472.TW 立隆電 (截至 2026-08-28)","i":-4.5,"p":466}]
},
"vconcat":[
{
"width":1023,"height":262,
"encoding":{"x":{"field":"i","type":"quantitative","scale":{"domain":[-0.88,111.4],"nice":false,"zero":false},"axis":{"values":[0,20,40,60,80,100],"labels":false,"ticks":false,"domain":false,"title":null,"grid":true}}},
"layer":[
{"data":{"name":"d"},"mark":{"type":"rule","strokeWidth":1},
 "encoding":{"y":{"field":"l","type":"quantitative","scale":{"domain":[79.1,499.8],"nice":false,"zero":false},"axis":{"orient":"right","values":[100,150,200,250,300,350,400,450],"title":"Price","titleAngle":270,"titlePadding":20,"grid":true}},"y2":{"field":"h"},
 "color":{"condition":{"test":"datum.c >= datum.o","value":"#ff0000"},"value":"#008000"}}},
{"data":{"name":"d"},"mark":{"type":"bar","width":6.5},
 "encoding":{"y":{"field":"o","type":"quantitative","scale":{"domain":[79.1,499.8],"nice":false,"zero":false}},"y2":{"field":"c"},
 "color":{"condition":{"test":"datum.c >= datum.o","value":"#ff0000"},"value":"#008000"}}},
{"data":{"name":"pl"},"transform":[{"filter":"datum.s == 'up'"}],"mark":{"type":"line","color":"#0000ff","strokeWidth":1.2},
 "encoding":{"y":{"field":"v","type":"quantitative","scale":{"domain":[79.1,499.8],"nice":false,"zero":false}}}},
{"data":{"name":"pl"},"transform":[{"filter":"datum.s == 'lo'"}],"mark":{"type":"line","color":"#0000ff","strokeWidth":1.2},
 "encoding":{"y":{"field":"v","type":"quantitative","scale":{"domain":[79.1,499.8],"nice":false,"zero":false}}}},
{"data":{"name":"pl"},"transform":[{"filter":"datum.s == 'mid'"}],"mark":{"type":"line","color":"#0000ff","strokeWidth":1.3,"strokeDash":[4,2.5]},
 "encoding":{"y":{"field":"v","type":"quantitative","scale":{"domain":[79.1,499.8],"nice":false,"zero":false}}}},
{"data":{"name":"pl"},"transform":[{"filter":"datum.s == 'ma10'"}],"mark":{"type":"line","color":"#800080","strokeWidth":1.5},
 "encoding":{"y":{"field":"v","type":"quantitative","scale":{"domain":[79.1,499.8],"nice":false,"zero":false}}}},
{"data":{"name":"pl"},"transform":[{"filter":"datum.s == 'ma5'"}],"mark":{"type":"line","color":"#ffa500","strokeWidth":1.2},
 "encoding":{"y":{"field":"v","type":"quantitative","scale":{"domain":[79.1,499.8],"nice":false,"zero":false}}}},
{"data":{"name":"ttl"},"mark":{"type":"text","align":"left","baseline":"middle","fontSize":18.5,"fontWeight":"bold","font":"Noto Sans CJK TC","color":"black","clip":false},
 "encoding":{"x":{"field":"i","type":"quantitative"},"y":{"field":"p","type":"quantitative","scale":{"domain":[79.1,499.8],"nice":false,"zero":false}},"text":{"field":"t"}}}
]
},
{
"width":1023,"height":78,
"encoding":{"x":{"field":"i","type":"quantitative","scale":{"domain":[-0.88,111.4],"nice":false,"zero":false},"axis":{"values":[0,20,40,60,80,100],"labels":false,"ticks":false,"domain":false,"title":null,"grid":true}}},
"layer":[
{"data":{"name":"d"},"mark":{"type":"bar","width":8.2,"stroke":"#1f77b4","strokeWidth":0.8},
 "encoding":{"y":{"field":"v","type":"quantitative","scale":{"domain":[0,34600],"nice":false,"zero":false},"axis":{"orient":"right","values":[0,20000],"format":"d","title":"張數","titleFontSize":12,"titleAngle":270,"titlePadding":27,"grid":true}},"y2":{"datum":0},
 "color":{"condition":{"test":"datum.c >= datum.o","value":"#ff0000"},"value":"#008000"}}},
{"data":{"name":"vl"},"transform":[{"filter":"datum.s == 'm5'"}],"mark":{"type":"line","color":"#ffa500","strokeWidth":1.3},
 "encoding":{"y":{"field":"v","type":"quantitative","scale":{"domain":[0,34600],"nice":false,"zero":false}}}},
{"data":{"name":"vl"},"transform":[{"filter":"datum.s == 'm20'"}],"mark":{"type":"line","color":"#0000ff","strokeWidth":1.6},
 "encoding":{"y":{"field":"v","type":"quantitative","scale":{"domain":[0,34600],"nice":false,"zero":false}}}}
]
},
{
"width":1023,"height":132,
"encoding":{"x":{"field":"i","type":"quantitative","scale":{"domain":[-0.88,111.4],"nice":false,"zero":false},"axis":{"values":[0,20,40,60,80,100],"labels":false,"ticks":false,"domain":false,"title":null,"grid":true}}},
"layer":[
{"data":{"name":"ref"},"mark":{"type":"rule","color":"#808080","strokeWidth":1,"strokeDash":[1.5,2.5]},
 "encoding":{"x":{"datum":0},"x2":{"datum":105},"y":{"field":"v","type":"quantitative","scale":{"domain":[2.1,100.6],"nice":false,"zero":false},"axis":{"orient":"right","values":[25,50,75,100],"title":"KD","titleAngle":270,"titlePadding":27,"grid":true}}}},
{"data":{"name":"d"},"mark":{"type":"line","color":"#0000ff","strokeWidth":2},
 "encoding":{"y":{"field":"k","type":"quantitative","scale":{"domain":[2.1,100.6],"nice":false,"zero":false}}}},
{"data":{"name":"d"},"mark":{"type":"line","color":"#ffa500","strokeWidth":2},
 "encoding":{"y":{"field":"dd","type":"quantitative","scale":{"domain":[2.1,100.6],"nice":false,"zero":false}}}}
]
},
{
"width":1023,"height":131,
"encoding":{"x":{"field":"i","type":"quantitative","scale":{"domain":[-0.88,111.4],"nice":false,"zero":false},"axis":{"values":[0,20,40,60,80,100],"labelExpr":"datum.value == 0 ? '2026-03-30' : datum.value == 20 ? '2026-04-29' : datum.value == 40 ? '2026-05-28' : datum.value == 60 ? '2026-06-26' : datum.value == 80 ? '2026-07-24' : '2026-08-21'","labelAngle":-45,"labelAlign":"right","labelBaseline":"top","labelOffset":17,"labelPadding":2,"labelFlush":false,"title":null,"grid":true,"domain":false,"ticks":true}}},
"layer":[
{"data":{"name":"d"},"mark":{"type":"bar","width":6},
 "encoding":{"y":{"field":"osc","type":"quantitative","scale":{"domain":[-40.7,55],"nice":false,"zero":false},"axis":{"orient":"right","values":[-25,0,25,50],"title":"MACD","titleAngle":270,"titlePadding":26,"grid":true}},"y2":{"datum":0},
 "color":{"condition":{"test":"datum.osc >= 0","value":"#ff4d4d"},"value":"#4da64d"}}},
{"data":{"name":"ml"},"transform":[{"filter":"datum.s == 'dif'"}],"mark":{"type":"line","color":"#0000ff","strokeWidth":1.5},
 "encoding":{"y":{"field":"v","type":"quantitative","scale":{"domain":[-40.7,55],"nice":false,"zero":false}}}},
{"data":{"name":"ml"},"transform":[{"filter":"datum.s == 'dea'"}],"mark":{"type":"line","color":"#ffa500","strokeWidth":1.5},
 "encoding":{"y":{"field":"v","type":"quantitative","scale":{"domain":[-40.7,55],"nice":false,"zero":false}}}}
]
}
]
}
